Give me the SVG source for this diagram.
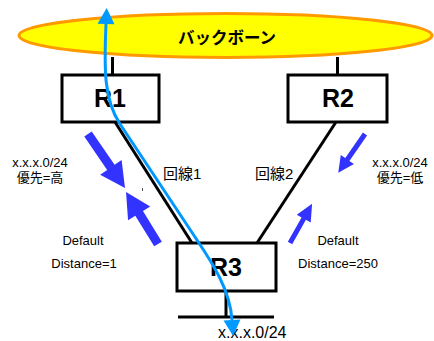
<svg xmlns="http://www.w3.org/2000/svg" width="434" height="341" viewBox="0 0 434 341">
  <defs>
    <style>
      .box { fill: #ffffff; stroke: #000000; stroke-width: 3; }
      .link { stroke: #000000; stroke-width: 3; fill: none; }
      .rlabel { font-family: "Liberation Sans", Arial, sans-serif; font-weight: bold; font-size: 25px; text-anchor: middle; fill: #000; }
      .lbl { font-family: "Liberation Sans", "Noto Sans CJK JP", sans-serif; font-size: 13px; fill: #000; }
      .big { font-size: 16px; }
      .mid { text-anchor: middle; }
      .line-lbl { font-family: "Liberation Sans", "Noto Sans CJK JP", sans-serif; font-size: 15px; fill: #000; }
      .flow { fill: #3333ff; }
      .route { stroke: #0099ff; stroke-width: 3; fill: none; }
    </style>
    <marker id="bh" markerUnits="userSpaceOnUse" markerWidth="18" markerHeight="18" refX="0" refY="0" viewBox="0 -9 17 18" orient="auto-start-reverse" overflow="visible">
      <path d="M0,-8.5 L16,0 L0,8.5 Z" fill="#0099ff"/>
    </marker>
  </defs>

  <g id="backbone">
    <ellipse cx="225.5" cy="35.5" rx="206.5" ry="22" fill="#ffff00" stroke="#ff9900" stroke-width="3"/>
    <text x="227" y="44" font-family="'Liberation Sans', 'Noto Sans CJK JP', sans-serif" font-weight="bold" font-size="16.5" text-anchor="middle">バックボーン</text>
  </g>

  <g id="connectors">
    <line class="link" x1="112.5" y1="57" x2="112.5" y2="75"/>
    <line class="link" x1="337.5" y1="57" x2="337.5" y2="75"/>
    <line class="link" x1="115" y1="122" x2="192" y2="243"/>
    <line class="link" x1="336" y1="122" x2="257" y2="243"/>
    <line class="link" x1="226" y1="291" x2="226" y2="317"/>
    <line class="link" x1="178" y1="317" x2="274" y2="317"/>
  </g>

  <g id="R1">
    <rect class="box" x="62" y="75" width="97" height="47"/>
    <text class="rlabel" x="110" y="107">R1</text>
  </g>
  <g id="R2">
    <rect class="box" x="288" y="75" width="99" height="47"/>
    <text class="rlabel" x="338" y="107">R2</text>
  </g>
  <g id="R3">
    <rect class="box" x="177" y="243" width="99" height="48"/>
    <text class="rlabel" x="226" y="276">R3</text>
  </g>

  <g id="labels">
    <text class="line-lbl" x="163" y="179">回線1</text>
    <text class="line-lbl" x="255" y="179">回線2</text>
    <text class="lbl mid" x="40" y="167">x.x.x.0/24</text>
    <text class="lbl mid" x="40" y="182">優先=高</text>
    <text class="lbl mid" x="400" y="167">x.x.x.0/24</text>
    <text class="lbl mid" x="400" y="182">優先=低</text>
    <text class="lbl mid" x="83" y="245">Default</text>
    <text class="lbl mid" x="84" y="268">Distance=1</text>
    <text class="lbl mid" x="338" y="245">Default</text>
    <text class="lbl mid" x="338" y="268">Distance=250</text>
    <text class="lbl big" x="218" y="338">x.x.x.0/24</text>
    <line x1="142.5" y1="188" x2="142.5" y2="191" stroke="#555" stroke-width="1"/>
  </g>

  <g id="flow-arrows">
    <path class="flow" transform="translate(88,134) rotate(55.6)" d="M0,-4.5 L40.5,-4.5 L40.5,-13 L65.5,0 L40.5,13 L40.5,4.5 L0,4.5 Z"/>
    <path class="flow" transform="translate(158,244) rotate(238.4)" d="M0,-4.5 L36,-4.5 L36,-13 L61,0 L36,13 L36,4.5 L0,4.5 Z"/>
    <path class="flow" transform="translate(365,134) rotate(124.7)" d="M0,-2.5 L31,-2.5 L31,-8 L47,0 L31,8 L31,2.5 L0,2.5 Z"/>
    <path class="flow" transform="translate(290,243) rotate(-60.6)" d="M0,-2.5 L28,-2.5 L28,-8 L45,0 L28,8 L28,2.5 L0,2.5 Z"/>
  </g>

  <g id="route">
    <path class="route" d="M106,24 C104,70 104,100 120,124 L197,240 C213,264 230,290 232,320" marker-start="url(#bh)" marker-end="url(#bh)"/>
  </g>
</svg>
